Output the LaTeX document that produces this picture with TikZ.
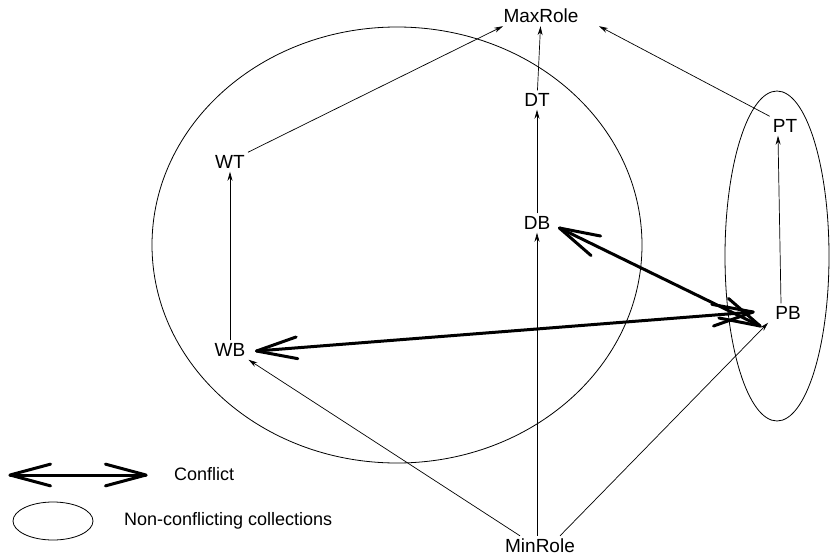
\documentclass[tikz,border=0pt]{standalone}
\usepackage{fontspec}
\setmainfont{Liberation Sans}
\usetikzlibrary{arrows.meta,calc}
\newcommand{\conflictarrow}[2]{%
  \draw[conflict] (#1) -- (#2);
  \draw[conflict] ($(#1)!42pt!15:(#2)$) -- (#1) -- ($(#1)!42pt!-15:(#2)$);
  \draw[conflict] ($(#2)!42pt!15:(#1)$) -- (#2) -- ($(#2)!42pt!-15:(#1)$);}
\begin{document}
\begin{tikzpicture}[x=1pt,y=-1pt,
  role/.style={font=\fontsize{19}{21}\selectfont, inner sep=3pt},
  legend/.style={font=\fontsize{18}{20}\selectfont, inner sep=3pt},
  isa/.style={-{Stealth[length=9pt,width=5pt]}, line width=0.7pt},
  conflict/.style={line width=3pt, line join=round, line cap=round},
  coll/.style={draw, line width=0.8pt}]
\useasboundingbox (0,0) rectangle (830,557);
\fill[white] (0,0) rectangle (830,557);
% collections
\draw[coll] (397,245) ellipse [x radius=245, y radius=218];
\draw[coll] (777,256) ellipse [x radius=52, y radius=165];
% roles
\node[role] (max) at (541,16) {MaxRole};
\node[role] (dt) at (537,100) {DT};
\node[role] (db) at (537,223) {DB};
\node[role] (wt) at (230,162) {WT};
\node[role] (wb) at (230,350) {WB};
\node[role] (pt) at (785,126) {PT};
\node[role] (pb) at (788,313) {PB};
\node[role] (min) at (540,546) {MinRole};
% hierarchy
\draw[isa] (wt.north east) -- ([xshift=-38pt]max.south);
\draw[isa] (dt) -- (max);
\draw[isa] (pt.north west) -- ([xshift=58pt]max.south);
\draw[isa] (db) -- (dt);
\draw[isa] (wb) -- (wt);
\draw[isa] ([xshift=-7pt]pb.north) -- ([xshift=-7pt]pt.south);
\draw[isa] ([xshift=-3pt]min.north) -- (db.south);
\draw[isa] ([xshift=-20pt]min.north) -- (wb.south east);
\draw[isa] ([xshift=20pt]min.north) -- ([xshift=-4pt]pb.south west);
% conflicts
\coordinate (dbc) at ([xshift=6pt,yshift=-5pt]db.east);
\coordinate (pbd) at ([xshift=-12pt,yshift=-13pt]pb.west);
\coordinate (wbc) at ([xshift=8pt,yshift=-1pt]wb.east);
\coordinate (pbw) at ([xshift=-19pt,yshift=1pt]pb.west);
\conflictarrow{dbc}{pbd}
\conflictarrow{wbc}{pbw}
% legend
\coordinate (la) at (10,475);
\coordinate (lb) at (146,475);
\conflictarrow{la}{lb}
\node[legend, anchor=west] (lconf) at (171,474) {Conflict};
\draw[coll] (53,521) ellipse [x radius=40, y radius=19];
\node[legend, anchor=west] (lcoll) at (121,521) {Non-conflicting collections};
\end{tikzpicture}
\end{document}
